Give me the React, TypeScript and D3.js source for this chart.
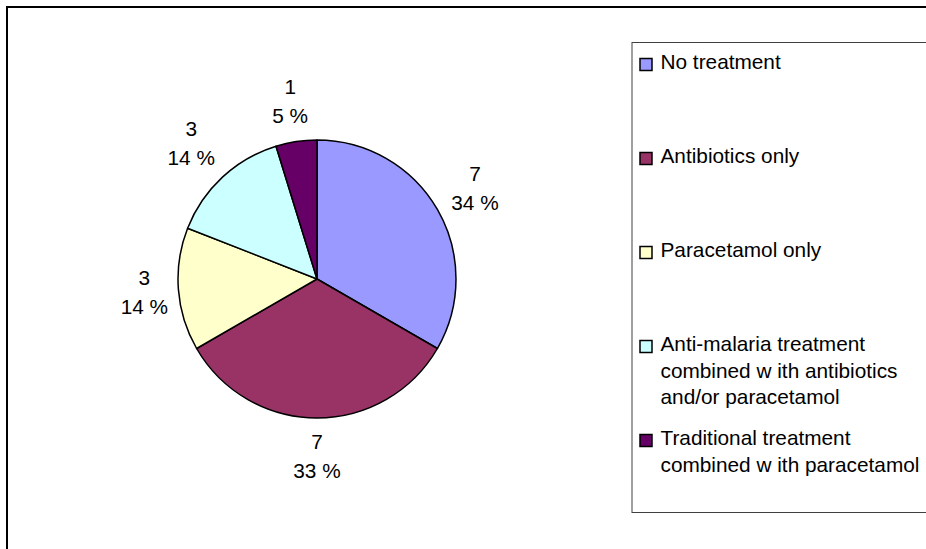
import React from "react"
import * as d3 from "d3"

const categories = [
  "No treatment",
  "Antibiotics only",
  "Paracetamol only",
  "Anti-malaria treatment combined w ith antibiotics and/or paracetamol",
  "Traditional treatment combined w ith paracetamol",
]
// legend lines as wrapped in the original
const legendLines = [
  ["No treatment"],
  ["Antibiotics only"],
  ["Paracetamol only"],
  ["Anti-malaria treatment", "combined w ith antibiotics", "and/or paracetamol"],
  ["Traditional treatment", "combined w ith paracetamol"],
]
const counts = [7, 7, 3, 3, 1]
const percentLabels = ["34 %", "33 %", "14 %", "14 %", "5 %"]
const colors = ["#9999FF", "#993366", "#FFFFCC", "#CCFFFF", "#660066"]

const W = 926
const H = 549
const font = "'Liberation Sans', Arial, sans-serif"
const fontSize = 20.8

const App = () => {
  const cx = 317
  const cy = 279
  const radius = 139
  const labelGap = 9
  // half size of a two-line data label box
  const boxHalfW = 23
  const boxHalfH = 29
  const lineGap = 29

  const pie = d3
    .pie<number>()
    .sort(null)
    .value((d) => d)
  const arcs = pie(counts)
  const arc = d3.arc<d3.PieArcDatum<number>>().innerRadius(0).outerRadius(radius)

  // place label box just outside the pie, along the slice's mid angle
  const labelPos = (a: d3.PieArcDatum<number>) => {
    const mid = (a.startAngle + a.endAngle) / 2
    const s = Math.sin(mid)
    const c = Math.cos(mid)
    const extent = boxHalfW * Math.abs(s) + boxHalfH * Math.abs(c)
    const r = radius + labelGap + extent
    return [r * s, -r * c]
  }

  // legend layout
  const legendX = 632
  const legendY = 42.5
  const legendH = 470
  const firstBaseline = 69
  const itemStep = 94
  const lineStep = 26.7

  return (
    <svg
      width={W}
      height={H}
      style={{ position: "absolute", left: 0, top: 0, display: "block" }}
      fontFamily={font}
    >
      <rect x={0} y={0} width={W} height={H} fill="#fff" />
      {/* chart area border */}
      <rect x={7} y={7} width={W + 20} height={H + 20} fill="none" stroke="#000" strokeWidth={2} />

      <g transform={`translate(${cx},${cy})`}>
        {arcs.map((a, i) => (
          <path key={i} d={arc(a) || ""} fill={colors[i]} stroke="#000" strokeWidth={1.5} strokeLinejoin="round" />
        ))}
        {arcs.map((a, i) => {
          const [lx, ly] = labelPos(a)
          return (
            <text key={"l" + i} x={lx} y={ly} textAnchor="middle" fontSize={fontSize} fill="#000">
              <tspan x={lx} dy={-7}>{counts[i]}</tspan>
              <tspan x={lx} dy={lineGap}>{percentLabels[i]}</tspan>
            </text>
          )
        })}
      </g>

      {/* legend */}
      <rect x={legendX} y={legendY} width={W} height={legendH} fill="#fff" stroke="#404040" strokeWidth={1} />
      {categories.map((c, i) => {
        const base = firstBaseline + i * itemStep
        return (
          <g key={c}>
            <rect x={640} y={base - 10.5} width={12} height={12} fill={colors[i]} stroke="#000" strokeWidth={1.5} />
            <text x={660.5} y={base} fontSize={fontSize} fill="#000">
              {legendLines[i].map((line, j) => (
                <tspan key={j} x={660.5} y={base + j * lineStep}>
                  {line}
                </tspan>
              ))}
            </text>
          </g>
        )
      })}
    </svg>
  )
}

export default App
